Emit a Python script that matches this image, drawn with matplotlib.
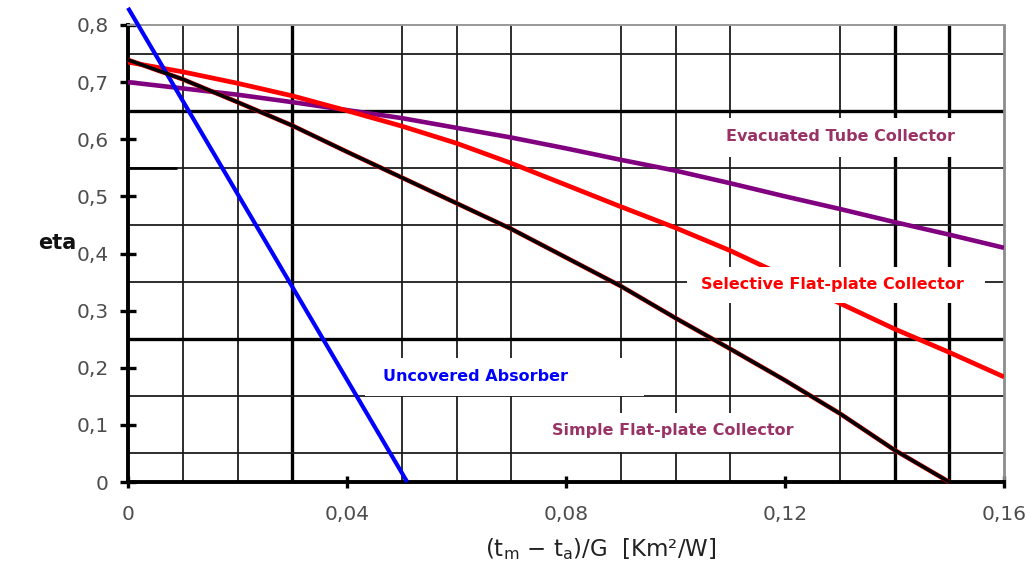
import matplotlib
matplotlib.use("Agg")
import matplotlib.pyplot as plt
from matplotlib.patches import Rectangle

plt.rcParams["font.family"] = ["DejaVu Sans"]
plt.rcParams["mathtext.fontset"] = "dejavusans"
plt.rcParams["mathtext.default"] = "regular"

# Collector efficiency curves, eta versus (tm - ta)/G
x_vals = [0.00, 0.01, 0.02, 0.03, 0.04, 0.05, 0.06, 0.07, 0.08,
          0.09, 0.10, 0.11, 0.12, 0.13, 0.14, 0.15, 0.16]
evacuated_eta = [0.700, 0.689, 0.678, 0.665, 0.651, 0.637, 0.620, 0.603, 0.584,
                 0.564, 0.545, 0.523, 0.500, 0.478, 0.455, 0.433, 0.410]
selective_eta = [0.735, 0.718, 0.698, 0.676, 0.650, 0.623, 0.593, 0.558, 0.520,
                 0.482, 0.445, 0.405, 0.360, 0.313, 0.268, 0.227, 0.184]
simple_x = [0.00, 0.01, 0.02, 0.03, 0.04, 0.05, 0.06, 0.07, 0.08,
            0.09, 0.10, 0.11, 0.12, 0.13, 0.14, 0.15]
simple_eta = [0.739, 0.705, 0.665, 0.624, 0.578, 0.533, 0.488, 0.443, 0.393,
              0.343, 0.287, 0.233, 0.178, 0.120, 0.056, 0.000]
uncovered_x = [0.000, 0.051]
uncovered_eta = [0.830, 0.000]

x_ticks = [0.00, 0.04, 0.08, 0.12, 0.16]
x_tick_labels = ["0", "0,04", "0,08", "0,12", "0,16"]
y_ticks = [0.0, 0.1, 0.2, 0.3, 0.4, 0.5, 0.6, 0.7, 0.8]
y_tick_labels = ["0", "0,1", "0,2", "0,3", "0,4", "0,5", "0,6", "0,7", "0,8"]

# Grid lines (thin and heavy ones)
grid_x_thin = [0.01, 0.02, 0.05, 0.06, 0.07, 0.09, 0.10, 0.11, 0.13]
grid_x_thick = [0.03, 0.14, 0.15]
grid_y_thin = [0.05, 0.15, 0.35, 0.45, 0.55, 0.75]
grid_y_thick = [0.25, 0.65]

W, H = 1032, 565
fig = plt.figure(figsize=(W / 100, H / 100), dpi=100)
fig.patch.set_facecolor("white")
ax = fig.add_axes([128 / W, 1 - 482 / H, 876 / W, 457 / H])
ax.set_xlim(0, 0.16)
ax.set_ylim(0, 0.8)

for gx in grid_x_thin:
    ax.axvline(gx, color="#1c1c1c", lw=1.3, zorder=1)
for gx in grid_x_thick:
    ax.axvline(gx, color="black", lw=2.4, zorder=1)
for gy in grid_y_thin:
    ax.axhline(gy, color="#1c1c1c", lw=1.3, zorder=1)
for gy in grid_y_thick:
    ax.axhline(gy, color="black", lw=2.4, zorder=1)
ax.plot([0, 0.0089], [0.55, 0.55], color="black", lw=2.0, zorder=1,
        solid_capstyle="butt")

# Curves
ax.plot(x_vals, evacuated_eta, color="#800080", lw=3.3, zorder=3,
        solid_capstyle="butt")
ax.plot(x_vals, selective_eta, color="#ff0000", lw=3.4, zorder=3,
        solid_capstyle="butt")
ax.plot(simple_x, simple_eta, color="#ff0000", lw=3.3, zorder=3,
        solid_capstyle="butt", clip_on=False)
ax.plot(simple_x, simple_eta, color="black", lw=2.6, zorder=3.1,
        solid_capstyle="butt", clip_on=False)
ax.plot(uncovered_x, uncovered_eta, color="#0000ff", lw=3.0, zorder=3,
        solid_capstyle="butt", clip_on=False)

# Curve labels on white panels
labels = [
    ("Evacuated Tube Collector", "#993366", (0.1085, 0.569, 0.042, 0.068), (0.1302, 0.604)),
    ("Selective Flat-plate Collector", "#ff0000", (0.1021, 0.3135, 0.0544, 0.063), (0.1286, 0.346)),
    ("Uncovered Absorber", "#0000ff", (0.0433, 0.1506, 0.0509, 0.0664), (0.0635, 0.1845)),
    ("Simple Flat-plate Collector", "#993366", (0.0745, 0.0525, 0.0505, 0.0685), (0.0995, 0.0893)),
]
for text, col, (bx, by, bw, bh), (tx, ty) in labels:
    ax.add_patch(Rectangle((bx, by), bw, bh, facecolor="white",
                           edgecolor="none", zorder=4))
    ax.text(tx, ty, text, color=col, fontsize=11.5, fontweight="bold",
            ha="center", va="center", zorder=5)

# Axes frame
for side in ("left", "bottom"):
    ax.spines[side].set_linewidth(2.8)
    ax.spines[side].set_color("black")
ax.spines["top"].set_color("#999999")
ax.spines["top"].set_linewidth(1.4)
ax.spines["right"].set_color("#8c8c8c")
ax.spines["right"].set_linewidth(2.0)

ax.set_xticks(x_ticks)
ax.set_xticklabels(x_tick_labels)
ax.set_yticks(y_ticks)
ax.set_yticklabels(y_tick_labels)
ax.tick_params(axis="both", direction="inout", width=2.4, color="black",
               labelcolor="#4d4d4d", labelsize=14.5)
ax.tick_params(axis="x", length=9, pad=12)
ax.tick_params(axis="y", length=12, pad=8)

fig.text(57 / W, 1 - 243 / H, "eta", fontsize=15, fontweight="bold",
         color="#111111", ha="center", va="center")
fig.text(601 / W, 1 - 549 / H, r"(t$_{m}$ $-$ t$_{a}$)/G  [Km²/W]",
         fontsize=16.5, color="#222222", ha="center", va="center")

fig.savefig("out.png", dpi=100, facecolor="white")
